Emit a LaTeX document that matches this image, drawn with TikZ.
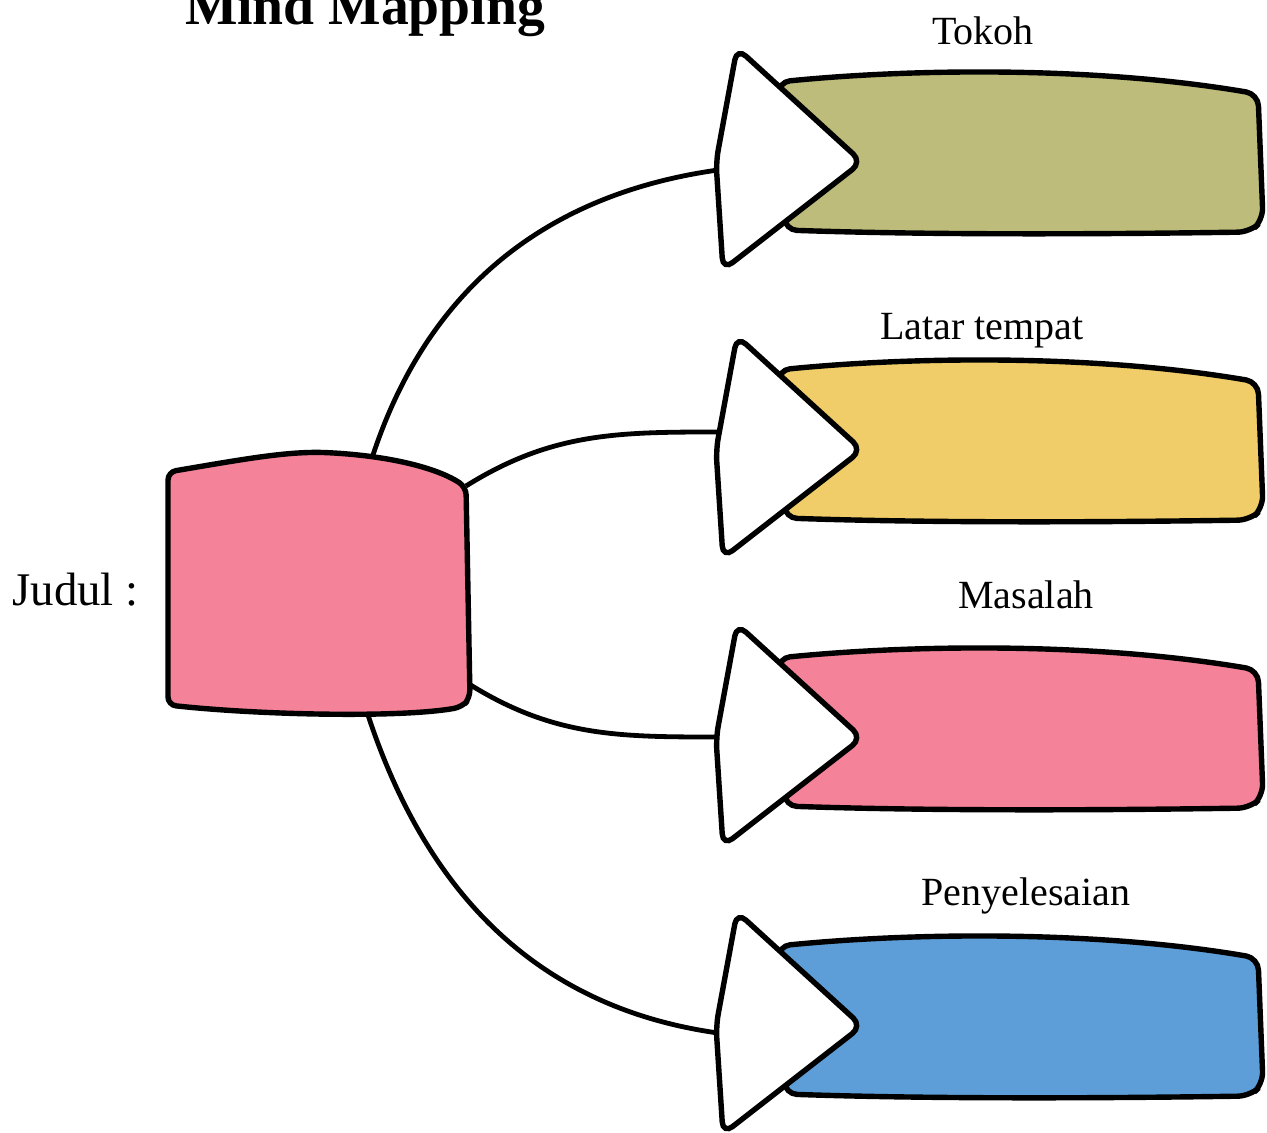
\documentclass[tikz,border=0pt]{standalone}
\usepackage{fontspec}
\setmainfont{Liberation Serif}
\usepackage{tikz}

\definecolor{tokohcol}{RGB}{190,188,122}
\definecolor{latarcol}{RGB}{240,205,104}
\definecolor{masalahcol}{RGB}{244,130,152}
\definecolor{selesaicol}{RGB}{94,158,216}

\tikzset{
  band/.style={draw=black, line width=2.7pt, rounded corners=6pt},
  arrowhead/.style={draw=black, fill=white, line width=2.7pt, rounded corners=6pt},
  link/.style={draw=black, line width=2.4pt},
  lbl/.style={font=\fontsize{20}{24}\selectfont, anchor=base, inner sep=0pt},
}

\begin{document}
\begin{tikzpicture}[x=0.5pt,y=-0.5pt]
\useasboundingbox (0,0) rectangle (1267,1133);

% title and topic
\node[font=\fontsize{27.8}{33}\selectfont\bfseries, anchor=base, inner sep=0pt] (title) at (365,25) {Mind Mapping};
\node[font=\fontsize{23.4}{28}\selectfont, anchor=base west, inner sep=0pt] (judul) at (12,605) {Judul :};

% anchor points
\coordinate (boxN) at (372,458);
\coordinate (boxNE) at (466,486);
\coordinate (boxSE) at (469,684);
\coordinate (boxS) at (367,712);
\coordinate (in1) at (718,170);
\coordinate (in2) at (718,432);
\coordinate (in3) at (718,737);
\coordinate (in4) at (718,1033);

% connections
\draw[link] (boxN) to[out=72,in=188] (in1);
\draw[link] (boxNE) to[out=32,in=180] (in2);
\draw[link] (boxSE) to[out=-32,in=180] (in3);
\draw[link] (boxS) to[out=-72,in=172] (in4);

% central box
\draw[band, rounded corners=4pt, fill=masalahcol] (168,472) .. controls (250,458) and (290,451) .. (335,453)
  .. controls (400,458) and (440,470) .. (466,487) -- (470,698) -- (462,707)
  .. controls (400,718) and (260,715) .. (168,705) -- cycle;

% branches
\foreach \n/\ty/\col in {1/162/tokohcol, 2/450/latarcol, 3/738/masalahcol, 4/1026/selesaicol} {
  \begin{scope}[shift={(0,\ty)}]
    \draw[band, fill=\col] (778,-80) .. controls (920,-94) and (1100,-95) .. (1258,-68)
      -- (1263,58) -- (1250,70) .. controls (1050,73) and (900,72) .. (785,68) -- cycle;
    \draw[arrowhead] (716,0) -- (737,-114) -- (862,0) -- (723,108) -- cycle;
  \end{scope}
}

% labels
\node[lbl] (tokoh) at (983,45) {Tokoh};
\node[lbl] (latar) at (982,340) {Latar tempat};
\node[lbl] (masalah) at (1026,608) {Masalah};
\node[lbl] (selesai) at (1026,905) {Penyelesaian};
\end{tikzpicture}
\end{document}
